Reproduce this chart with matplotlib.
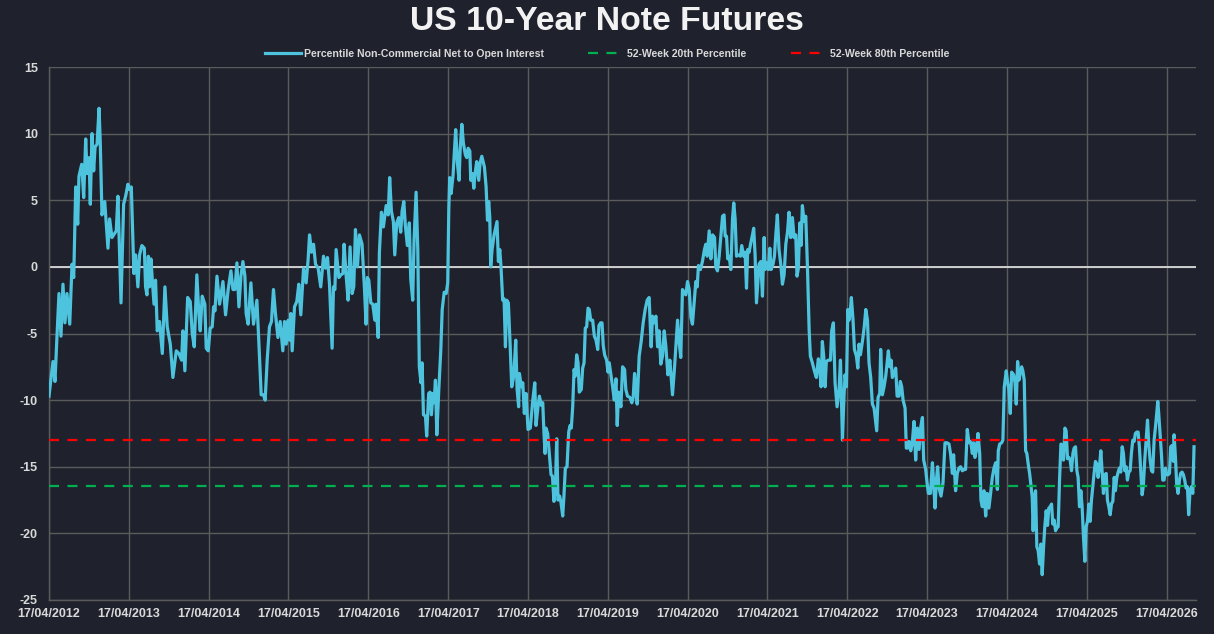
import matplotlib.pyplot as plt
import matplotlib.dates as mdates
from matplotlib.lines import Line2D
import numpy as np
import pandas as pd

plt.rcParams['axes.unicode_minus'] = False

# time axis: offsets from 17/04/2012 in 1/52 of a year
weeks = [
    # 2012 - mid 2014
    0, 1.5, 2.6, 3.9, 5.2, 6.5, 7.8, 9.1, 10.4, 11.7,
    13.5, 15.0, 16.1, 17.4, 18.7, 19.5, 21.3, 22.6, 23.9, 24.8,
    26.1, 26.9, 28.0, 29.1, 30.0, 31.3, 32.6, 33.4, 34.5, 36.3,
    38.4, 39.5, 41.0, 43.8, 44.9, 46.9, 48.6, 49.9, 51.4, 52.5,
    53.6, 55.3, 56.4, 57.9, 59.0, 60.5, 62.1, 62.9, 63.8, 64.7,
    65.5, 66.4, 67.3, 68.4, 69.4, 70.5, 72.0, 73.8, 75.5, 77.0,
    79.0, 80.7, 82.9, 84.6, 86.4, 87.2, 88.5, 90.3, 92.0, 93.3,
    94.6, 96.3, 97.6, 98.5, 99.8, 101.5, 102.4, 103.7, 105.0, 106.3,
    107.2, 108.1, 109.4, 111.1, 113.3, 115.0, 116.7, 118.5, 119.8, 121.1,
    122.4, 123.7,
    # mid 2014 - early 2017
    125.0, 126.3, 127.6, 128.4, 129.7, 131.5, 133.2, 135.4, 136.7, 138.2,
    139.7, 140.8, 142.1, 143.6, 144.9, 146.2, 147.5, 149.1, 150.6, 152.3,
    153.4, 154.5, 155.8, 156.6, 157.5, 158.4, 159.9, 161.4, 162.7, 164.0,
    165.8, 167.5, 168.8, 169.7, 171.0, 172.3, 173.6, 175.3, 177.0, 178.8,
    180.1, 181.4, 182.7, 184.4, 185.3, 186.2, 187.0, 188.8, 190.1, 191.4,
    192.2, 193.5, 194.8, 196.1, 197.4, 198.5, 199.6, 200.9, 202.2, 203.9,
    205.5, 206.5, 207.4, 208.3, 209.6, 210.9, 212.2, 213.0, 214.4, 215.2,
    216.5, 217.8, 219.6, 220.9, 221.9, 223.0, 224.3, 225.2, 226.5, 227.8,
    229.1, 230.0, 231.1, 232.1, 233.4, 234.7, 235.6, 236.9, 237.8, 239.1,
    240.2, 241.2, 242.3, 243.0, 243.9, 245.2, 246.0, 247.3,
    # early 2017 - mid 2019
    248.2, 249.1, 250.0, 250.8, 251.7, 252.6, 253.9, 255.2, 256.1, 257.4,
    258.7, 259.7, 260.4, 261.0, 261.9, 263.2, 264.1, 264.9, 266.0, 267.1,
    267.8, 268.9, 269.9, 271.2, 272.1, 273.0, 274.1, 274.7, 275.8, 276.7,
    277.5, 278.6, 279.9, 280.8, 281.9, 283.6, 284.7, 285.6, 286.4, 287.1,
    287.7, 288.6, 289.9, 291.2, 291.8, 292.7, 293.6, 294.4, 295.5, 296.4,
    297.3, 298.1, 299.2, 300.3, 301.4, 302.7, 304.0, 304.9, 305.9, 306.4,
    307.7, 308.6, 309.6, 310.7, 312.0, 313.5, 315.1, 316.4, 317.2, 318.5,
    319.4, 320.7, 321.6, 322.4, 323.1, 323.7, 324.8, 325.9, 327.0, 327.9,
    328.9, 329.8, 330.7, 331.5, 332.6, 333.5, 334.6, 335.4, 336.3, 337.4,
    338.5, 339.4, 340.2, 341.1, 342.0, 342.8, 343.7, 344.6, 345.4, 346.7,
    347.6, 348.5, 349.3, 350.2, 351.1, 351.9, 352.8, 354.1, 355.2, 356.3,
    357.4, 358.2, 359.3, 360.2, 361.0, 361.9, 363.2, 364.1, 364.9, 366.0,
    367.1, 368.2, 369.3, 370.1, 371.0,
    # mid 2019 - early 2022
    372.5, 373.6, 374.9, 375.7, 376.8, 378.4, 379.6, 380.5, 381.4, 382.3,
    383.1, 384.4, 385.7, 387.0, 388.3, 389.6, 390.9, 392.2, 393.1, 394.2,
    395.3, 396.4, 397.4, 398.5, 399.6, 400.7, 401.8, 403.1, 404.4, 406.1,
    407.4, 408.3, 409.4, 410.5, 411.5, 412.6, 413.9, 414.8, 415.9, 417.0,
    418.1, 419.1, 420.2, 421.3, 422.2, 423.0, 424.3, 425.6, 426.9, 427.8,
    428.7, 430.0, 431.1, 432.2, 433.5, 434.3, 435.4, 436.5, 437.6, 438.7,
    439.7, 440.4, 441.3, 442.1, 443.0, 444.1, 445.2, 446.0, 446.9, 447.8,
    449.1, 450.4, 451.2, 452.5, 453.4, 454.3, 455.1, 456.0, 457.1, 458.2,
    459.0, 459.9, 460.8, 461.7, 462.5, 463.6, 464.7, 465.8, 466.4, 467.3,
    468.6, 469.5, 470.3, 471.6, 472.5, 473.4, 474.4, 475.5, 476.8, 477.7,
    478.8, 479.9, 481.0, 482.0, 483.1, 484.2, 485.3, 486.4, 487.2, 488.1,
    489.0, 489.8, 490.7, 491.8, 492.9, 494.0, 495.1, 495.9, 497.2, 498.5,
    499.8, 501.1, 502.0, 502.9, 503.7, 504.6, 505.5, 506.3, 507.6,
    # early 2022 - mid 2024
    509.0, 509.8, 510.9, 512.0, 513.3, 514.6, 515.5, 516.8, 517.7, 518.5,
    519.4, 520.3, 521.1, 522.0, 522.6, 523.7, 524.6, 525.9, 526.8, 527.6,
    528.5, 529.8, 530.9, 532.0, 533.1, 534.1, 535.2, 536.3, 537.4, 538.0,
    539.1, 540.0, 541.1, 541.7, 542.8, 543.9, 545.0, 545.9, 546.7, 547.6,
    548.5, 549.3, 550.4, 551.5, 552.4, 553.7, 554.5, 555.4, 556.3, 557.6,
    558.4, 559.3, 560.2, 561.3, 562.3, 563.4, 564.5, 565.6, 566.7, 567.8,
    568.9, 569.7, 571.0, 571.9, 572.8, 574.1, 575.4, 576.2, 577.1, 578.0,
    578.8, 579.7, 581.0, 582.3, 583.6, 584.9, 586.2, 587.3, 588.4, 589.2,
    590.5, 591.6, 592.7, 593.8, 594.9, 596.2, 597.0, 598.1, 599.2, 600.3,
    601.4, 602.3, 603.1, 604.0, 605.1, 606.2, 607.0, 607.9, 609.0, 610.1,
    611.1, 612.2, 613.3, 614.4, 615.5, 616.6, 617.7, 618.3, 619.2, 620.5,
    621.3, 622.2, 623.5, 624.4, 625.2, 626.1, 627.0, 628.3, 629.2, 630.0,
    630.9, 631.8,
    # mid 2024 - 2026
    632.6, 633.5, 634.3, 635.2, 636.1, 636.9, 637.8, 638.7, 639.5, 640.4,
    641.0, 641.7, 642.6, 643.4, 644.3, 645.2, 646.0, 646.9, 647.8, 648.6,
    649.5, 650.4, 651.2, 652.1, 653.0, 653.8, 654.7, 655.6, 656.4, 657.3,
    658.2, 659.1, 659.9, 660.8, 661.7, 662.5, 663.4, 664.3, 665.1, 666.0,
    666.9, 667.7, 668.6, 669.5, 670.3, 671.2, 672.1, 672.9, 673.8, 674.7,
    675.5, 676.4, 677.3, 678.1, 679.0, 679.9, 680.7, 681.6, 682.5, 683.3,
    684.2, 685.1, 686.0, 686.8, 687.7, 688.6, 689.4, 690.3, 691.2, 692.0,
    692.9, 693.8, 694.6, 695.5, 696.4, 697.2, 698.1, 699.0, 699.8, 700.7,
    701.6, 702.4, 703.3, 704.2, 705.0, 705.9, 706.8, 707.6, 708.5, 709.4,
    710.2, 711.1, 712.0, 712.8, 713.7, 714.6, 715.5, 716.3, 717.2, 718.1,
    718.9, 719.8, 720.7, 721.5, 722.2, 722.8, 723.7, 724.6, 725.4, 726.3,
    727.2, 728.0, 728.9, 729.8, 730.6, 731.5, 732.4, 732.8, 733.7, 734.5,
    735.4, 736.3, 737.1, 738.0, 738.9, 739.7, 740.6, 741.5, 742.3, 743.2,
    744.1, 745.0, 745.8,
]

net_oi = [
    # 2012 - mid 2014
    -9.7, -8.2, -7.1, -8.6, -5.2, -2.0, -5.2, -1.3, -4.2, -2.0,
    -4.3, 0.2, -0.8, 6.0, 3.2, 6.8, 7.7, 5.2, 9.6, 7.0,
    8.2, 4.7, 10.0, 7.2, 9.0, 9.2, 11.9, 9.3, 3.9, 4.9,
    1.4, 3.6, 2.2, 2.7, 5.3, -2.7, 4.7, 5.3, 6.2, 5.8,
    6.0, -0.5, 0.9, -1.5, 0.9, 1.6, 1.4, -1.5, -2.1, 0.8,
    -1.5, 0.6, -1.0, -2.8, -1.0, -4.8, -4.1, -6.5, -1.5, -4.5,
    -5.8, -8.3, -6.3, -6.5, -7.0, -4.8, -7.8, -2.3, -2.6, -5.0,
    -6.0, -0.6, -3.5, -4.8, -2.2, -2.8, -6.1, -6.3, -4.6, -4.5,
    -3.0, -3.3, -0.7, -2.8, -1.1, -3.6, -1.7, -0.3, -1.7, -1.7,
    0.3, -3.0,
    # mid 2014 - early 2017
    -0.7, 0.4, -0.7, -3.5, -4.3, -1.2, -4.3, -2.5, -5.7, -9.6,
    -9.6, -10.0, -7.0, -4.5, -4.1, -1.7, -3.5, -5.3, -4.1, -6.3,
    -4.1, -5.8, -4.0, -5.5, -3.5, -6.3, -3.0, -2.6, -1.3, -3.6,
    -0.1, -1.2, 0.6, 2.4, 1.1, 1.7, 0.2, -0.1, -1.5, 0.8,
    -0.1, 0.7, -1.3, -6.1, -1.5, -1.7, 1.3, -0.8, -0.6, -0.5,
    1.7, -0.6, -2.5, 1.5, -2.0, -1.5, 2.8, 0.0, 2.4, 1.7,
    -1.7, -4.3, -0.8, -1.0, -2.7, -2.8, -4.0, -2.8, -5.3, 1.1,
    4.1, 3.0, 4.6, 3.9, 6.7, 4.2, 3.4, 0.9, 3.3, 3.7,
    2.6, 4.2, 4.9, 3.1, 1.6, 3.3, -0.9, -2.5, 2.1, 5.6,
    1.3, -7.5, -8.7, -7.2, -11.1, -11.2, -12.7, -9.5,
    # early 2017 - mid 2019
    -9.4, -11.1, -9.5, -10.2, -8.5, -12.6, -9.2, -6.2, -3.2, -1.9,
    -2.0, -1.2, 4.3, 6.7, 5.5, 6.9, 8.8, 10.3, 7.8, 6.5,
    8.8, 10.7, 9.3, 8.4, 8.2, 8.9, 8.7, 6.5, 7.0, 5.9,
    7.0, 7.9, 6.5, 7.8, 8.3, 7.5, 6.0, 3.5, 4.9, 3.7,
    0.0, 1.3, 2.4, 3.1, 3.4, 0.4, 1.3, 0.0, -2.5, -2.4,
    -6.0, -2.5, -2.7, -5.7, -9.0, -8.2, -5.5, -9.2, -10.5, -8.0,
    -9.0, -8.7, -11.0, -9.5, -12.2, -12.1, -10.0, -8.7, -11.9, -10.5,
    -9.7, -10.4, -10.2, -12.5, -14.0, -12.1, -12.5, -14.1, -15.6, -15.7,
    -17.6, -16.7, -12.9, -17.5, -17.2, -17.7, -18.7, -17.2, -15.1, -15.0,
    -12.4, -11.9, -12.1, -10.5, -7.7, -8.2, -6.6, -7.2, -9.4, -9.2,
    -7.6, -7.2, -4.6, -4.5, -3.1, -3.2, -4.0, -4.0, -5.2, -5.5,
    -6.2, -4.4, -4.2, -4.2, -5.9, -6.6, -7.0, -7.9, -7.2, -8.1,
    -9.0, -10.0, -8.4, -11.9, -9.4,
    # mid 2019 - early 2022
    -10.5, -7.5, -7.7, -9.2, -9.7, -9.8, -10.2, -9.8, -8.0, -9.0,
    -10.3, -6.7, -5.6, -4.2, -3.2, -2.5, -2.3, -6.0, -3.7, -4.2,
    -3.7, -6.0, -4.8, -7.3, -6.7, -4.8, -6.0, -8.1, -7.0, -9.6,
    -7.6, -6.0, -4.0, -5.7, -6.8, -1.7, -2.0, -2.1, -1.1, -1.7,
    -3.8, -4.3, -2.7, -1.1, -1.5, 0.1, -0.2, 0.4, 1.3, 1.7,
    0.8, 2.7, 0.6, 2.4, 2.2, 0.0, -0.3, 0.8, 2.3, 3.8,
    3.9, 2.3, 2.3, 0.6, 0.8, -0.2, 3.6, 4.8, 3.6, 0.8,
    0.9, 0.8, 1.6, 0.8, 1.1, -1.6, 1.3, 1.1, 1.8, 2.4,
    2.9, 0.9, -2.7, -1.2, 0.2, 0.4, -2.2, 2.2, -0.2, 0.3,
    -0.2, 1.4, -0.2, 0.2, 0.8, 2.4, 3.9, 1.3, 0.0, -1.3,
    -0.6, 1.7, 2.6, 4.1, 2.2, 3.7, 2.2, 2.4, -0.7, -0.1,
    3.3, 1.6, 4.6, 3.4, 3.8, 0.0, -4.7, -6.7, -7.2, -7.8,
    -8.3, -6.9, -7.7, -9.0, -5.6, -6.7, -9.0, -7.1, -7.0,
    # early 2022 - mid 2024
    -7.0, -4.8, -4.2, -8.7, -10.5, -9.2, -7.0, -13.0, -10.0, -8.1,
    -9.0, -3.2, -4.0, -3.2, -2.3, -4.0, -6.2, -6.7, -7.6, -5.8,
    -6.6, -5.6, -4.6, -3.2, -4.0, -7.2, -8.3, -10.3, -10.6, -11.2,
    -12.3, -9.8, -9.5, -6.2, -9.6, -9.0, -8.2, -7.2, -6.3, -7.5,
    -7.0, -8.3, -8.0, -7.6, -9.7, -9.7, -8.6, -9.0, -10.0, -10.6,
    -13.6, -13.6, -13.1, -13.8, -13.2, -11.6, -14.5, -12.1, -13.7, -12.0,
    -11.3, -14.5, -15.2, -16.2, -17.0, -17.0, -14.7, -16.2, -18.1, -16.0,
    -15.0, -16.6, -17.2, -16.2, -13.2, -13.2, -13.3, -14.1, -15.5, -14.1,
    -16.8, -15.5, -15.1, -15.0, -15.3, -15.2, -15.2, -12.2, -13.2, -13.1,
    -14.0, -13.2, -14.3, -13.8, -12.5, -14.0, -17.5, -18.0, -16.8, -18.7,
    -17.0, -18.1, -17.0, -15.8, -15.1, -14.7, -16.7, -13.8, -13.3, -13.2,
    -13.0, -9.0, -7.8, -8.7, -9.2, -11.0, -7.9, -8.1, -8.7, -10.3,
    -7.1, -8.5,
    # mid 2024 - 2026
    -8.0, -7.5, -7.8, -8.5, -13.8, -14.0, -14.8, -15.5, -16.3, -17.3,
    -19.8, -17.3, -16.8, -21.0, -21.3, -22.3, -20.8, -23.1, -21.0, -19.5,
    -18.3, -19.4, -18.1, -18.0, -17.8, -19.3, -19.0, -19.8, -19.6, -19.5,
    -16.0, -13.3, -13.4, -14.5, -12.1, -12.3, -14.4, -14.3, -14.5, -15.3,
    -14.0, -13.6, -13.5, -15.3, -15.8, -18.0, -16.8, -18.0, -20.3, -22.1,
    -19.5, -19.1, -17.8, -19.1, -17.5, -16.4, -15.5, -14.6, -14.8, -15.8,
    -15.0, -13.8, -15.5, -17.0, -15.6, -15.5, -17.5, -18.0, -18.6, -17.8,
    -17.6, -15.8, -16.8, -15.8, -15.4, -15.1, -15.4, -13.5, -14.0, -15.3,
    -15.0, -16.0, -15.4, -15.3, -14.0, -13.0, -13.1, -12.5, -12.4, -12.4,
    -13.5, -15.3, -17.1, -16.4, -14.5, -13.0, -11.5, -13.3, -14.5, -15.3,
    -15.4, -13.0, -12.0, -11.0, -10.1, -11.0, -12.5, -14.1, -16.0, -16.0,
    -15.1, -15.6, -15.6, -15.5, -13.5, -13.4, -14.6, -12.6, -14.3, -16.3,
    -17.0, -16.0, -15.5, -15.4, -15.6, -16.0, -16.6, -16.5, -18.6, -16.8,
    -16.5, -17.0, -13.5,
]

pct_20 = -16.45
pct_80 = -13.0

start = pd.Timestamp('2012-04-17')
tick_years = list(range(2012, 2027))
y_ticks = [-25, -20, -15, -10, -5, 0, 5, 10, 15]

series_label = 'Percentile Non-Commercial Net to Open Interest'
low_label = '52-Week 20th Percentile'
high_label = '52-Week 80th Percentile'

assert len(weeks) == len(net_oi)

bg = '#1f222d'
grid_col = '#5b5b5b'
text_col = '#d9d9d9'
line_col = '#4ec3de'

dates = start + pd.to_timedelta(np.array(weeks) * 365.25 / 52, unit='D')
ticks = [pd.Timestamp(f'{y}-04-17') for y in tick_years]

fig = plt.figure(figsize=(12.14, 6.34), dpi=100, facecolor=bg)
ax = fig.add_axes([49 / 1214, 34 / 634, 1147 / 1214, 533 / 634])
ax.set_facecolor(bg)

ax.plot(dates, net_oi, color=line_col, lw=2.3, zorder=3, solid_joinstyle='round')
ax.axhline(0, color='#e6e6e6', lw=1.2, zorder=2)
ax.axhline(pct_20, color='#00b050', lw=1.6, dashes=(4.5, 3.8), zorder=4)
ax.axhline(pct_80, color='#ff0000', lw=1.6, dashes=(4.5, 3.8), zorder=4)

ax.set_ylim(-25, 15)
ax.set_yticks(y_ticks)
ax.set_xlim(start, dates[-1] + pd.Timedelta(days=9))
ax.set_xticks(ticks)
ax.xaxis.set_major_formatter(mdates.DateFormatter('%d/%m/%Y'))

ax.grid(True, color=grid_col, lw=1.0, zorder=0)
ax.set_axisbelow(True)
for side in ['top', 'right']:
    ax.spines[side].set_visible(False)
for side in ['left', 'bottom']:
    ax.spines[side].set_color(grid_col)
    ax.spines[side].set_linewidth(1.0)

ax.tick_params(axis='both', length=0, colors=text_col)
ax.tick_params(axis='y', pad=8)
ax.tick_params(axis='x', pad=6)
for lab in ax.get_xticklabels() + ax.get_yticklabels():
    lab.set_fontfamily('Liberation Sans')
    lab.set_fontweight('bold')
    lab.set_fontsize(9)

fig.text(0.5, 1 - 22 / 634, 'US 10-Year Note Futures', ha='center', va='center',
         color='#f2f2f2', fontsize=24.3, fontweight='bold', family='Liberation Sans')

handles = [
    Line2D([], [], color=line_col, lw=2.3),
    Line2D([], [], color='#00b050', lw=1.6, dashes=(4.5, 3.8)),
    Line2D([], [], color='#ff0000', lw=1.6, dashes=(4.5, 3.8)),
]
leg = fig.legend(handles, [series_label, low_label, high_label], loc='center',
                 bbox_to_anchor=(0.5, 1 - 54 / 634), ncol=3, frameon=False,
                 handlelength=3.4, handletextpad=0.3, columnspacing=4.2,
                 prop={'family': 'Liberation Sans', 'weight': 'bold', 'size': 7.6})
for t in leg.get_texts():
    t.set_color(text_col)

fig.savefig('out.png', dpi=100, facecolor=bg)
